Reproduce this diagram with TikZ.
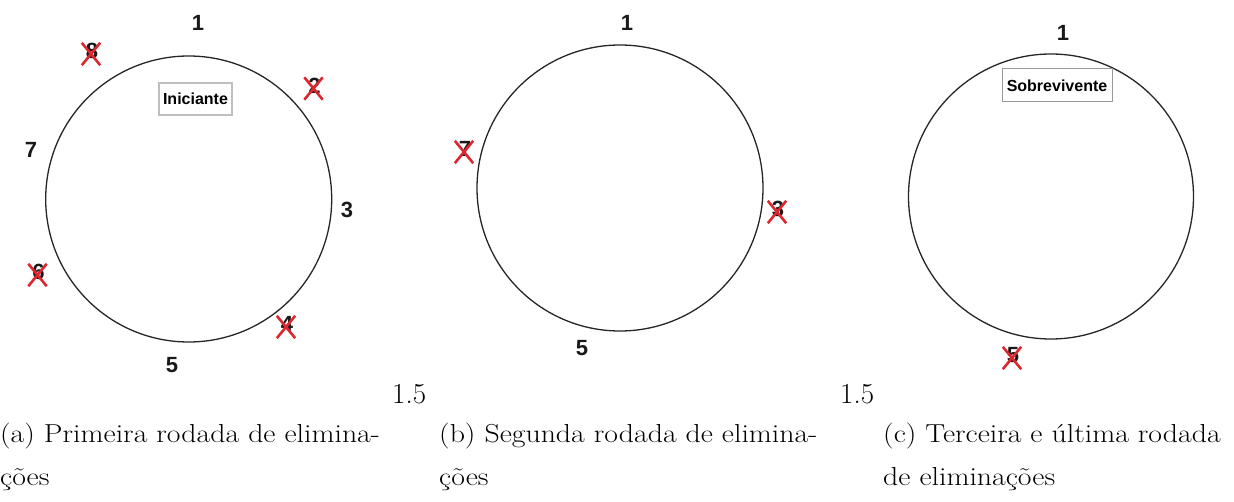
\documentclass[tikz,border=0pt]{standalone}
\usepackage{fontspec}
\usepackage{graphicx}
\newfontfamily\labfont{Liberation Sans}
\tikzset{
  ring/.style={draw=black!85, line width=1.3pt, circle, minimum size=#1, inner sep=0pt},
  num/.style={font=\labfont\bfseries\fontsize{22}{22}\selectfont, inner sep=0pt, text=black!90},
  tagbox/.style={font=\labfont\bfseries\fontsize{16}{16}\selectfont, inner sep=0pt, align=center},
  xbox/.style={minimum width=18pt, minimum height=22pt, inner sep=0pt},
  xline/.style={draw={rgb,255:red,222;green,38;blue,46}, line width=2.6pt},
  captext/.style={font=\fontsize{26}{32}\selectfont, anchor=base west, inner sep=0pt},
  stray/.style={font=\fontsize{29}{32}\selectfont, anchor=base west, inner sep=0pt}
}
\newcommand{\crossmark}[4]{% name, x, y, digit
  \node[num] (#1d) at (#2+1,#3-3) {#4};
  \node[xbox] (#1) at (#2,#3) {};
  \draw[xline] (#1.north west) -- (#1.south east);
  \draw[xline] (#1.north east) -- (#1.south west);
}
\newcommand{\captxt}[1]{\scalebox{1.146}[1]{#1}}
\begin{document}
\begin{tikzpicture}[x=1pt,y=-1pt]
\useasboundingbox (0,0) rectangle (1234,502);
% panel a
\node[ring=286pt] (ca) at (188.7,199) {};
\node[num] (a1) at (198,23) {1};
\node[num] (a7) at (31,150) {7};
\node[num] (a3) at (347,210) {3};
\node[num] (a5) at (172,365) {5};
\crossmark{a8}{91}{54}{8}
\crossmark{a2}{313.5}{88.5}{2}
\crossmark{a6}{37.5}{275}{6}
\crossmark{a4}{286}{327}{4}
\node[tagbox, draw=black!25, line width=2.5pt, minimum width=73pt, minimum height=32pt] (ini) at (195.5,99) {Iniciante};
% panel b
\node[ring=286pt] (cb) at (620,188) {};
\node[num] (b1) at (627,23) {1};
\node[num] (b5) at (582,348) {5};
\crossmark{b7}{464}{152}{7}
\crossmark{b3}{777}{212}{3}
% panel c
\node[ring=285pt] (cc) at (1051,196.5) {};
\node[num] (c1) at (1063,33) {1};
\crossmark{c5}{1012}{358}{5}
\node[tagbox, draw=black!40, line width=1pt, minimum width=110pt, minimum height=33pt] (sob) at (1057,85.5) {Sobrevivente};
% stray text
\node[stray] (s1) at (392,403) {1.5};
\node[stray] (s2) at (840,403) {1.5};
% captions
\node[captext] (capa1) at (0,442) {\captxt{(a) Primeira rodada de elimina-}};
\node[captext] (capa2) at (0,485) {\captxt{ções}};
\node[captext] (capb1) at (439,442) {\captxt{(b) Segunda rodada de elimina-}};
\node[captext] (capb2) at (439,485) {\captxt{ções}};
\node[captext] (capc1) at (883,442) {\captxt{(c) Terceira e última rodada}};
\node[captext] (capc2) at (883,485) {\captxt{de eliminações}};
\end{tikzpicture}
\end{document}
